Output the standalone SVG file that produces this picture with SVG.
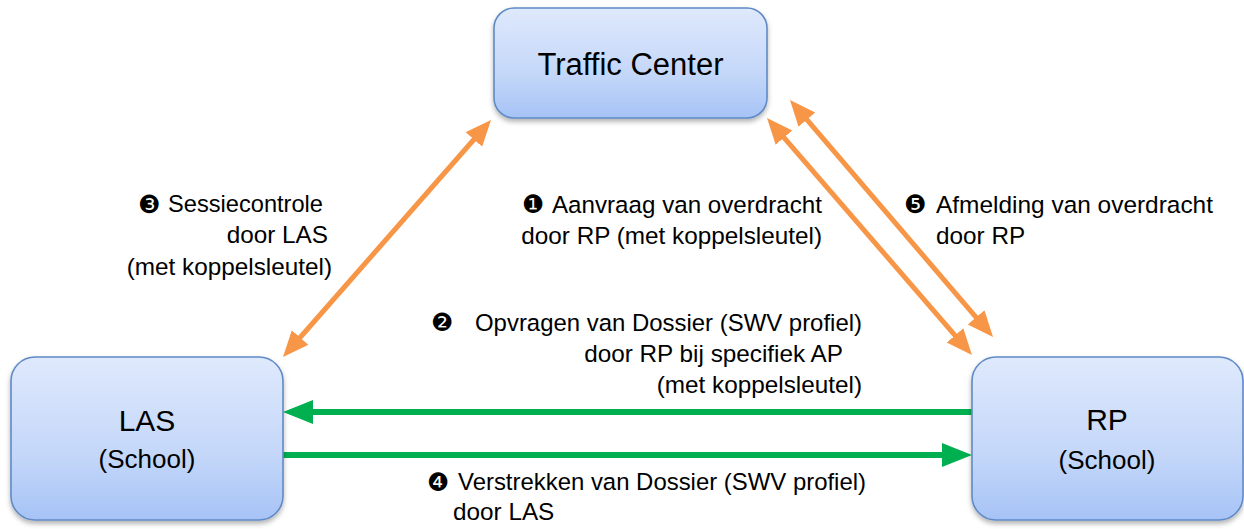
<svg xmlns="http://www.w3.org/2000/svg" width="1244" height="529" viewBox="0 0 1244 529">
<style>
.box{fill:url(#bg);stroke:#5F8AC6;stroke-width:1.6;filter:url(#sh)}
.t{font-family:"Liberation Sans",Arial,sans-serif;fill:#000}
.lbl{font-size:24.3px}
.num{font-family:"DejaVu Sans",sans-serif;font-size:25px;fill:#000}
.or{stroke:#F79646;stroke-width:5;fill:none;marker-start:url(#ao);marker-end:url(#ao)}
.gr{stroke:#00B050;stroke-width:6;fill:none;marker-end:url(#ag)}
</style>
<defs>
<linearGradient id="bg" x1="0" y1="0" x2="0" y2="1">
<stop offset="0" stop-color="#DFE9FC"/>
<stop offset="0.6" stop-color="#C4D7F9"/>
<stop offset="1" stop-color="#A6C3F6"/>
</linearGradient>
<filter id="sh" x="-10%" y="-10%" width="120%" height="130%">
<feDropShadow dx="0" dy="3" stdDeviation="2.5" flood-color="#000" flood-opacity="0.3"/>
</filter>
<marker id="ao" markerUnits="userSpaceOnUse" markerWidth="28" markerHeight="24" refX="2" refY="11" orient="auto-start-reverse" viewBox="0 0 28 24">
<path d="M0,0 L26,11 L0,22 z" fill="#F79646"/>
</marker>
<marker id="ag" markerUnits="userSpaceOnUse" markerWidth="32" markerHeight="26" refX="2" refY="12" orient="auto-start-reverse" viewBox="0 0 32 26">
<path d="M0,0 L30,12 L0,24 z" fill="#00B050"/>
</marker>
</defs>

<g id="connectors">
<line class="or" x1="298.8" y1="339" x2="475.2" y2="138"/>
<line class="or" x1="782.7" y1="136.1" x2="956.3" y2="336.9"/>
<line class="or" x1="805.6" y1="118.2" x2="977.4" y2="318.8"/>
<line class="gr" x1="972" y1="412" x2="311" y2="412"/>
<line class="gr" x1="283" y1="455" x2="944" y2="455"/>
</g>

<g id="traffic-center">
<rect class="box" x="494" y="8" width="273" height="110" rx="20"/>
<text class="t" x="630.5" y="75" font-size="31" text-anchor="middle">Traffic Center</text>
</g>
<g id="las">
<rect class="box" x="11" y="357" width="272" height="163" rx="24"/>
<text class="t" x="147" y="431" font-size="30" text-anchor="middle">LAS</text>
<text class="t" x="147" y="468" font-size="26" text-anchor="middle">(School)</text>
</g>
<g id="rp">
<rect class="box" x="972" y="357" width="271" height="163" rx="24"/>
<text class="t" x="1107" y="430" font-size="30" text-anchor="middle">RP</text>
<text class="t" x="1107" y="469" font-size="26" text-anchor="middle">(School)</text>
</g>

<g id="label-1">
<text class="num" x="522" y="213">❶</text>
<text class="t lbl" x="552" y="213" textLength="270" lengthAdjust="spacingAndGlyphs">Aanvraag van overdracht</text>
<text class="t lbl" x="822" y="244" text-anchor="end">door RP (met koppelsleutel)</text>
</g>
<g id="label-2">
<text class="num" x="431" y="331">❷</text>
<text class="t lbl" x="475" y="331" textLength="387" lengthAdjust="spacingAndGlyphs">Opvragen van Dossier (SWV profiel)</text>
<text class="t lbl" x="843" y="362" text-anchor="end">door RP bij specifiek AP</text>
<text class="t lbl" x="862" y="393" text-anchor="end">(met koppelsleutel)</text>
</g>
<g id="label-3">
<text class="num" x="138" y="213">❸</text>
<text class="t lbl" x="168" y="212" textLength="155" lengthAdjust="spacingAndGlyphs">Sessiecontrole</text>
<text class="t lbl" x="328" y="243" text-anchor="end">door LAS</text>
<text class="t lbl" x="332" y="275" text-anchor="end">(met koppelsleutel)</text>
</g>
<g id="label-4">
<text class="num" x="427" y="491">❹</text>
<text class="t lbl" x="458" y="490" textLength="408" lengthAdjust="spacingAndGlyphs">Verstrekken van Dossier (SWV profiel)</text>
<text class="t lbl" x="453" y="520">door LAS</text>
</g>
<g id="label-5">
<text class="num" x="904" y="213">❺</text>
<text class="t lbl" x="936" y="213" textLength="277" lengthAdjust="spacingAndGlyphs">Afmelding van overdracht</text>
<text class="t lbl" x="936" y="244">door RP</text>
</g>
</svg>
